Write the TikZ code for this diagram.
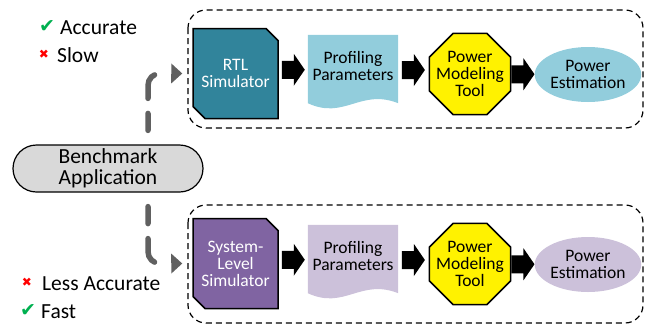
\documentclass[tikz,border=0pt]{standalone}
\usepackage{fontspec}
\setmainfont{Carlito}
\newfontfamily\symfont{DejaVu Sans}
\usetikzlibrary{shapes.geometric,shapes.misc,arrows.meta,calc,backgrounds}

\definecolor{rtlteal}{HTML}{31849B}
\definecolor{syspurple}{HTML}{8064A2}
\definecolor{lightblue}{HTML}{92CDDC}
\definecolor{lightpurple}{HTML}{CCC1DA}
\definecolor{benchgray}{HTML}{D9D9D9}
\definecolor{flowgray}{HTML}{606060}
\definecolor{okgreen}{HTML}{00B050}
\definecolor{badred}{HTML}{FF0000}

% black block arrow between two nodes, at the height of a third one
\newcommand\blockarrow[3]{%
  \fill ($(#1.east)!0.5!(#2.west)$ |- #3) ++(-11.5,-9) -- ++(12,0) -- ++(0,-7)
    -- ++(11,16) -- ++(-11,16) -- ++(0,-7) -- ++(-12,0) -- cycle;}

\begin{document}
\begin{tikzpicture}[x=1pt,y=-1pt,
  boxfont/.style={font=\fontsize{17.5}{17}\selectfont},
  simbox/.style={chamfered rectangle,
    chamfered rectangle corners={north east,south west},
    chamfered rectangle sep=6pt, draw=black, line width=1.5pt,
    minimum width=85pt, minimum height=90pt, inner sep=0pt,
    text=white, align=center, boxfont},
  proftext/.style={minimum width=90pt, minimum height=62pt, inner sep=0pt,
    align=center, boxfont},
  tool/.style={regular polygon, regular polygon sides=8, minimum size=88pt,
    fill=yellow, draw=black, line width=1.5pt, inner sep=0pt},
  tooltext/.style={inner sep=0pt, align=center, boxfont},
  est/.style={ellipse, minimum width=102pt, minimum height=55pt,
    inner sep=0pt, align=center, boxfont},
  benchbox/.style={rounded rectangle, draw=black, fill=benchgray,
    line width=1.2pt, minimum width=190pt, minimum height=47pt,
    inner sep=0pt, align=center, font=\fontsize{21.5}{21.5}\selectfont},
  group/.style={draw=black, line width=1.2pt, dash pattern=on 6pt off 4pt,
    rounded corners=18pt},
  flow/.style={draw=flowgray, line width=5.5pt, line cap=round,
    dash pattern=on 17pt off 15pt on 26pt off 40pt, shorten >=10pt,
    -{Triangle[length=11pt,width=20pt,line width=0pt]}},
  lbl/.style={inner sep=0pt, anchor=west, font=\fontsize{21.5}{20}\selectfont},
  okmark/.style={inner sep=0pt, text=okgreen, font=\symfont\fontsize{19}{19}\selectfont},
  badmark/.style={inner sep=0pt, text=badred, font=\symfont\fontsize{12}{12}\selectfont}
]
\useasboundingbox (0,0) rectangle (651,325);

% the two simulation flows, each in its dashed frame
\draw[group] (188,10) rectangle (643,128);
\draw[group] (188,205) rectangle (643,323);

% RTL flow
\node[simbox, fill=rtlteal] (rtl) at (235.5,73.5) {RTL\\Simulator};
\node[proftext] (prof1) at (353,66) {Profiling\\Parameters};
\node[tool] (tool1) at (470,74) {};
\node[tooltext] (tool1t) at (tool1) {Power\\Modeling\\Tool};
\node[est, fill=lightblue] (est1) at (588,74.5) {Power\\Estimation};

% system-level flow
\node[simbox, fill=syspurple] (sys) at (235.5,263.5) {System-\\Level\\Simulator};
\node[proftext] (prof2) at (353,256) {Profiling\\Parameters};
\node[tool] (tool2) at (470,264) {};
\node[tooltext] (tool2t) at (tool2) {Power\\Modeling\\Tool};
\node[est, fill=lightpurple] (est2) at (588,264.5) {Power\\Estimation};

% document shapes behind the profiling texts
\begin{scope}[on background layer]
  \fill[lightblue] (prof1.north west) -- (prof1.north east)
    -- ([yshift=-6pt]prof1.south east) .. controls +(-38,-15) and +(37,17) ..
    ([yshift=-6pt]prof1.south west) -- cycle;
  \fill[lightpurple] (prof2.north west) -- (prof2.north east)
    -- ([yshift=-6pt]prof2.south east) .. controls +(-38,-15) and +(37,17) ..
    ([yshift=-6pt]prof2.south west) -- cycle;
\end{scope}

\blockarrow{rtl}{prof1}{rtl}
\blockarrow{prof1}{tool1}{rtl}
\blockarrow{tool1}{est1}{rtl}
\blockarrow{sys}{prof2}{sys}
\blockarrow{prof2}{tool2}{sys}
\blockarrow{tool2}{est2}{sys}

% common input
\node[benchbox] (bench) at (108,168.5) {Benchmark\\Application};

\draw[flow] ($(bench.north)+(40,-14)$) -- ++(0,-45)
  arc[start angle=180, end angle=270, radius=12] -- (rtl.west);
\draw[flow] ($(bench.south)+(40,14)$) -- ++(0,45)
  arc[start angle=180, end angle=90, radius=12] -- (sys.west);

% trade-offs
\node[okmark] (ok1) at (47,27) {✔};
\node[lbl] (acc1) at (60,28) {Accurate};
\node[badmark] (bad1) at (44,54) {✖};
\node[lbl] (slow) at (57,55.5) {Slow};
\node[badmark] (bad2) at (27,282) {✖};
\node[lbl] (acc2) at (42,283.5) {Less Accurate};
\node[okmark] (ok2) at (28,310) {✔};
\node[lbl] (fast) at (41,311.5) {Fast};
\end{tikzpicture}
\end{document}
